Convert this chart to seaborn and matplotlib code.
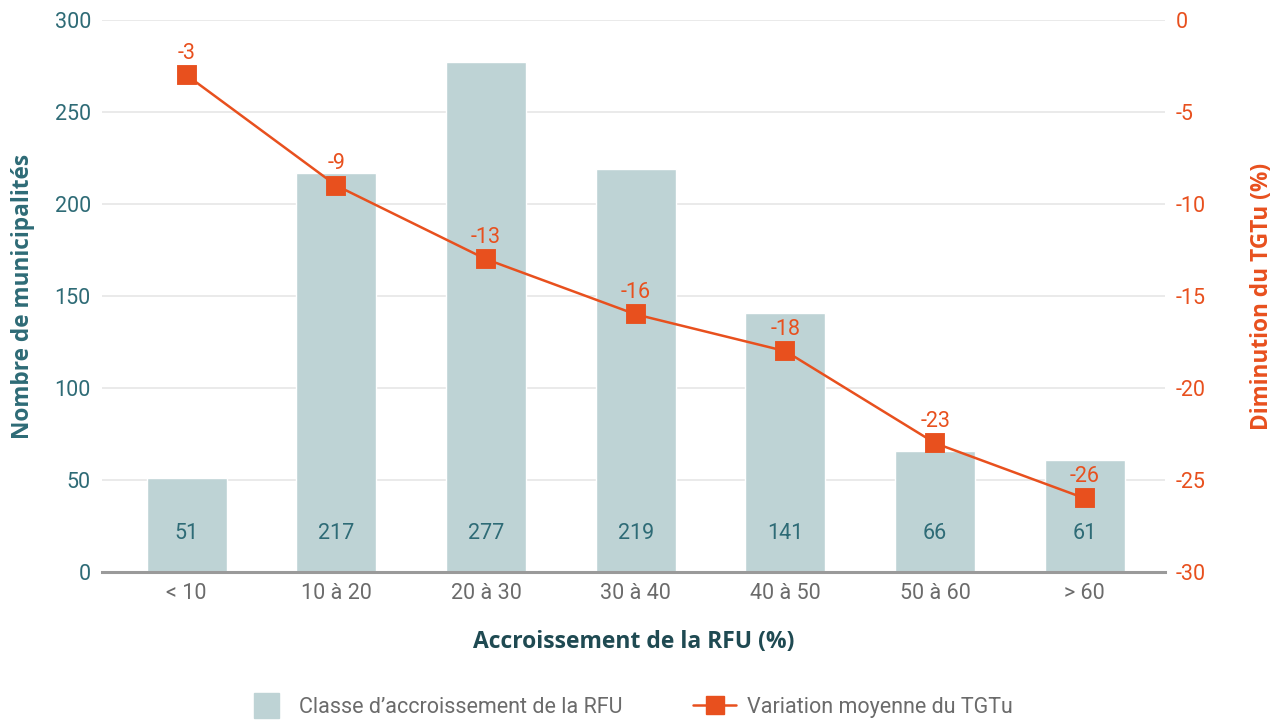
import matplotlib
matplotlib.use("Agg")
import matplotlib.pyplot as plt
from matplotlib.lines import Line2D
import seaborn as sns
import pandas as pd

# Classes of RFU growth and the values shown for each
categories = ["< 10", "10 à 20", "20 à 30", "30 à 40", "40 à 50", "50 à 60", "> 60"]
municipalities = [51, 217, 277, 219, 141, 66, 61]
tgtu_change = [-3, -9, -13, -16, -18, -23, -26]

left_ticks = [0, 50, 100, 150, 200, 250, 300]
right_ticks = [0, -5, -10, -15, -20, -25, -30]

BAR = "#BED3D5"
ORANGE = "#E8501E"
TEAL = "#2E6B76"
DARK = "#1F4A52"
GREY = "#6B6B6B"
FS = 15.5

sns.set_theme(style="white")
plt.rcParams["font.family"] = ["Roboto", "DejaVu Sans"]
plt.rcParams["axes.unicode_minus"] = False

df = pd.DataFrame({"classe": categories, "n": municipalities, "tgtu": tgtu_change})

fig = plt.figure(figsize=(12.83, 7.21), dpi=100)
ax = fig.add_axes([0.0795, 0.2067, 0.8285, 0.7656])

sns.barplot(data=df, x="classe", y="n", order=categories, color=BAR,
            saturation=1, width=0.535, ax=ax, zorder=2)
ax.set_ylim(0, 300)
ax.set_yticks(left_ticks)
ax.set_xlim(-0.565, 6.535)
ax.set_axisbelow(True)
ax.yaxis.grid(True, color="#E6E6E6", linewidth=1.2, zorder=0)
ax.xaxis.grid(False)
for side in ("top", "left", "right"):
    ax.spines[side].set_visible(False)
ax.spines["bottom"].set_color("#9A9A9A")
ax.spines["bottom"].set_linewidth(2.2)
ax.spines["bottom"].set_zorder(3)
ax.tick_params(axis="y", length=0, pad=8, labelsize=FS, labelcolor=TEAL)
ax.tick_params(axis="x", length=0, pad=8, labelsize=FS, labelcolor=GREY)

# counts written inside each bar
for i, v in enumerate(municipalities):
    ax.text(i, 21, f"{v}", ha="center", va="center", fontsize=FS, color=TEAL)

ax.set_xlabel("Accroissement de la RFU (%)", fontsize=16.5, fontweight="bold",
              color=DARK, family=["Open Sans", "DejaVu Sans"])
ax.xaxis.set_label_coords(0.5, -0.106)
ax.set_ylabel("Nombre de municipalités", fontsize=16.3, fontweight="bold",
              color=TEAL, family=["Open Sans", "DejaVu Sans"])
ax.yaxis.set_label_coords(-0.063, 0.5)

ax2 = ax.twinx()
sns.pointplot(data=df, x="classe", y="tgtu", order=categories, color=ORANGE,
              markers="s", markersize=13.5, linewidth=1.8, errorbar=None, ax=ax2)
ax2.set_ylim(-30, 0)
ax2.set_yticks(right_ticks)
ax2.set_xlim(-0.565, 6.535)
for side in ("top", "left", "right", "bottom"):
    ax2.spines[side].set_visible(False)
ax2.grid(False)
ax2.tick_params(axis="y", length=0, pad=8, labelsize=FS, labelcolor=ORANGE)
ax2.set_ylabel("Diminution du TGTu (%)", fontsize=16.3, fontweight="bold",
               color=ORANGE, family=["Open Sans", "DejaVu Sans"])
ax2.yaxis.set_label_coords(1.08, 0.5)
ax2.set_xlabel("")

for i, v in enumerate(tgtu_change):
    ax2.annotate(f"{v}", (i, v), xytext=(0, 8), textcoords="offset points",
                 ha="center", va="bottom", fontsize=FS, color=ORANGE)

handles = [
    Line2D([], [], linestyle="none", marker="s", markersize=18,
           markerfacecolor=BAR, markeredgecolor=BAR),
    Line2D([], [], color=ORANGE, linewidth=1.8, marker="s", markersize=13.5,
           markerfacecolor=ORANGE, markeredgecolor=ORANGE),
]
labels = ["Classe d\u2019accroissement de la RFU", "Variation moyenne du TGTu"]
leg = fig.legend(handles, labels, loc="center", bbox_to_anchor=(0.49, 0.019),
                 ncol=2, frameon=False, fontsize=FS, handlelength=2.0,
                 handletextpad=0.5, columnspacing=3.3)
for t in leg.get_texts():
    t.set_color(GREY)

fig.savefig("out.png", dpi=100)
